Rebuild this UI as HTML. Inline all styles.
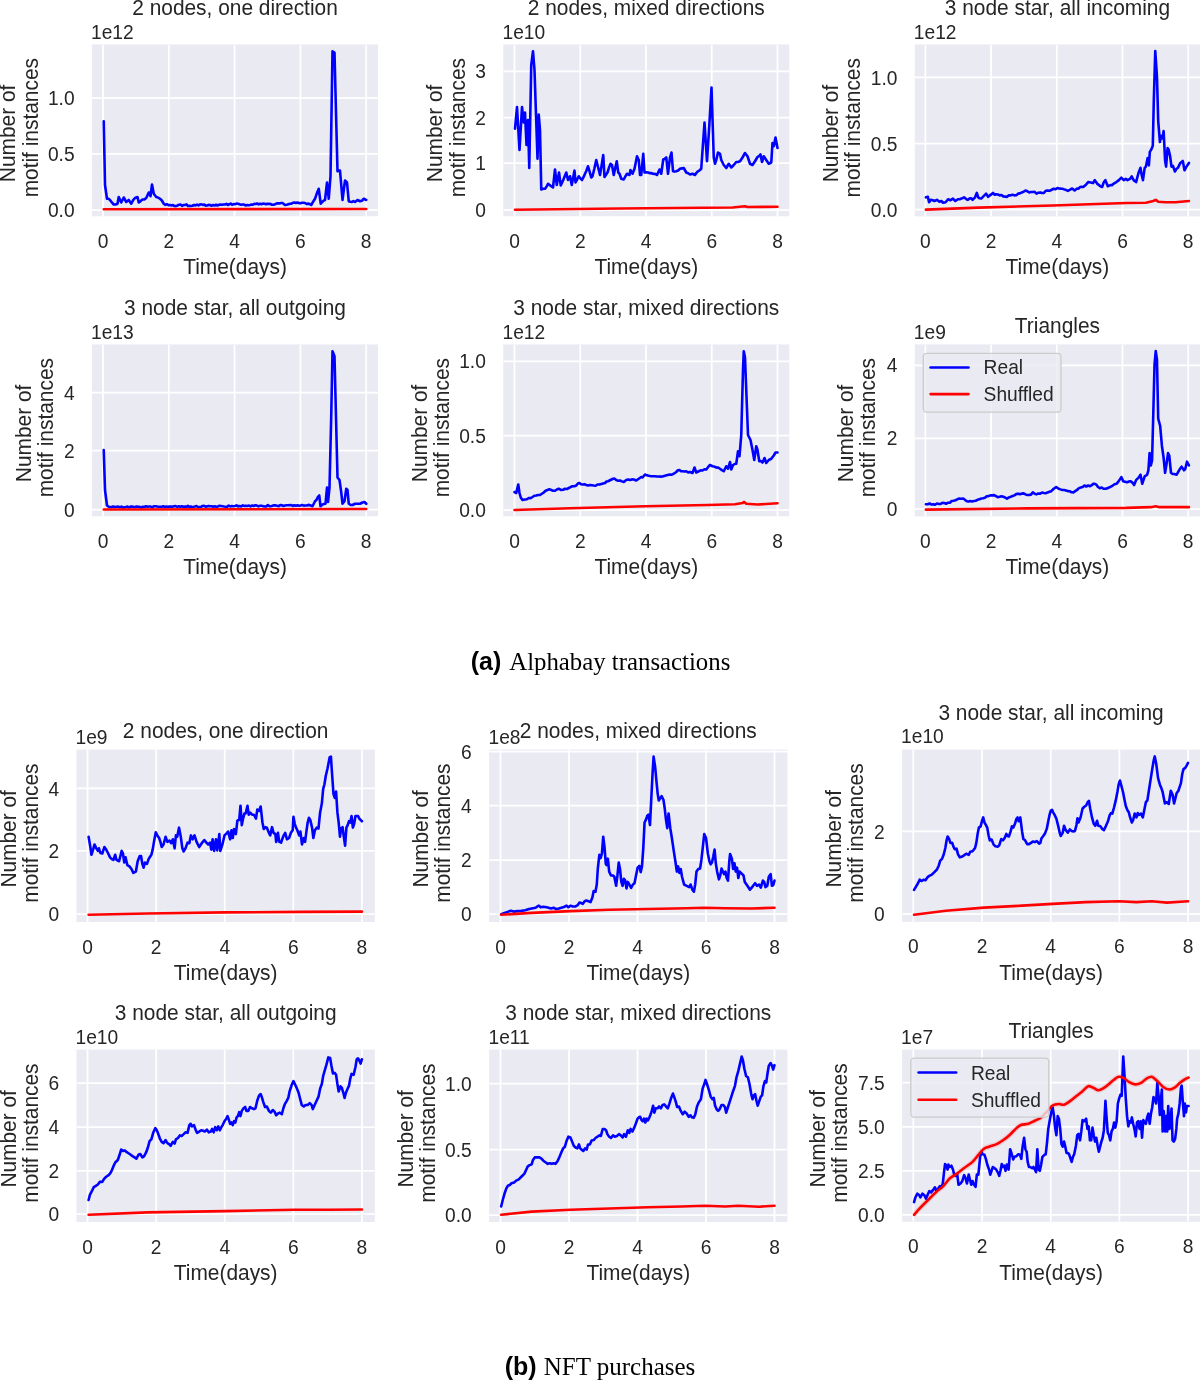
<!DOCTYPE html>
<html><head><meta charset="utf-8"><title>Motif counts</title>
<style>
html,body{margin:0;padding:0;background:#fff;}
body{width:1200px;height:1381px;overflow:hidden;}
svg{display:block;will-change:transform;}
text{font-family:"Liberation Sans",sans-serif;fill:#262626;}
.tk{font-size:19.2px;}
.lb{font-size:20.9px;}
.serif{font-family:"Liberation Serif",serif;}
</style></head><body>
<svg width="1200" height="1381" viewBox="0 0 1200 1381">
<g><rect x="92" y="44.5" width="286.00" height="171.75" fill="#EAEAF2"/>
<clipPath id="ca1"><rect x="92" y="44.5" width="286.00" height="171.75"/></clipPath>
<path d="M103.00 44.5V216.25M168.80 44.5V216.25M234.60 44.5V216.25M300.40 44.5V216.25M366.20 44.5V216.25M92 98H378M92 153.75H378M92 210H378" stroke="#fff" stroke-width="1.75" fill="none" clip-path="url(#ca1)"/>
<polyline points="103.75,121.25 105.00,185.00 107.00,198.75 108.50,198.79 110.00,200.00 111.88,202.45 113.75,204.50 115.62,204.56 117.50,203.75 118.75,197.00 121.25,202.50 123.75,197.50 126.25,202.00 128.75,200.00 131.25,203.75 133.12,200.18 135.00,198.00 137.50,197.00 138.75,202.50 140.62,201.10 142.50,199.50 144.38,199.39 146.25,198.00 148.75,192.50 150.50,196.25 152.00,184.50 153.75,193.75 156.25,197.00 158.12,197.63 160.00,198.75 161.88,200.51 163.75,203.75 165.31,204.82 166.88,204.24 168.44,205.16 170.00,205.00 171.50,205.43 173.00,205.08 174.50,206.07 176.00,206.10 177.50,205.50 179.00,204.72 180.50,204.56 182.00,205.86 183.50,205.01 185.00,205.00 186.50,204.40 188.00,206.02 189.50,205.81 191.00,206.04 192.50,205.75 194.00,205.01 195.50,205.38 197.00,204.55 198.50,205.36 200.00,204.50 201.43,204.39 202.86,204.88 204.29,204.64 205.71,205.58 207.14,205.47 208.57,204.92 210.00,205.00 211.50,205.78 213.00,204.95 214.50,205.56 216.00,204.77 217.50,205.50 219.00,204.77 220.50,204.58 222.00,204.82 223.50,204.48 225.00,204.50 226.43,203.88 227.86,205.02 229.29,204.26 230.71,203.60 232.14,204.76 233.57,204.17 235.00,204.25 236.50,203.62 238.00,203.76 239.50,204.30 241.00,204.72 242.50,204.50 244.00,204.54 245.50,205.46 247.00,204.95 248.50,205.31 250.00,205.00 251.43,204.56 252.86,204.69 254.29,203.86 255.71,203.98 257.14,203.45 258.57,204.36 260.00,203.75 261.50,204.24 263.00,203.61 264.50,203.73 266.00,204.32 267.50,203.75 269.00,203.86 270.50,204.00 272.00,204.73 273.50,204.71 275.00,204.25 276.50,203.58 278.00,203.17 279.50,203.39 281.00,203.01 282.50,203.00 285.00,205.00 286.67,204.75 288.33,204.25 290.00,203.75 291.50,203.70 293.00,202.77 294.50,202.54 296.00,203.03 297.50,202.50 299.00,203.16 300.50,203.32 302.00,202.82 303.50,202.76 305.00,203.00 306.56,204.02 308.12,203.62 309.69,204.03 311.25,205.00 313.12,201.71 315.00,198.75 316.88,193.34 318.75,188.75 320.75,203.75 322.17,201.94 323.58,200.67 325.00,200.00 327.00,182.50 328.75,198.75 330.50,176.25 332.50,51.25 334.50,52.50 336.00,112.43 337.50,171.25 340.00,170.50 342.50,200.00 345.00,180.50 347.00,182.50 348.75,201.25 350.31,201.80 351.88,201.93 353.44,201.03 355.00,202.00 357.50,200.00 360.00,201.25 361.88,200.77 363.75,198.75 366.25,200.00" fill="none" stroke="#0000ff" stroke-width="2.6" stroke-linejoin="round" stroke-linecap="round" clip-path="url(#ca1)"/>
<polyline points="103.75,209.25 366.25,209.00" fill="none" stroke="#ff0000" stroke-width="2.6" stroke-linejoin="round" stroke-linecap="round" clip-path="url(#ca1)"/>
<text class="tk" transform="translate(103.00,247.75) scale(1,1.04)" text-anchor="middle">0</text>
<text class="tk" transform="translate(168.80,247.75) scale(1,1.04)" text-anchor="middle">2</text>
<text class="tk" transform="translate(234.60,247.75) scale(1,1.04)" text-anchor="middle">4</text>
<text class="tk" transform="translate(300.40,247.75) scale(1,1.04)" text-anchor="middle">6</text>
<text class="tk" transform="translate(366.20,247.75) scale(1,1.04)" text-anchor="middle">8</text>
<text class="tk" transform="translate(74.60,105.15) scale(1,1.04)" text-anchor="end">1.0</text>
<text class="tk" transform="translate(74.60,160.90) scale(1,1.04)" text-anchor="end">0.5</text>
<text class="tk" transform="translate(74.60,217.15) scale(1,1.04)" text-anchor="end">0.0</text>
<text class="tk" transform="translate(91.00,38.75) scale(1,1.04)">1e12</text>
<text class="lb" transform="translate(235.00,15.30) scale(1,1.04)" text-anchor="middle">2 nodes, one direction</text>
<text class="lb" transform="translate(235.00,274.00) scale(1,1.04)" text-anchor="middle">Time(days)</text>
<text class="lb" transform="translate(15.35,133.43) rotate(-90) scale(1,1.04)" text-anchor="middle">Number of</text>
<text class="lb" transform="translate(37.65,127.67) rotate(-90) scale(1,1.04)" text-anchor="middle">motif instances</text></g>
<g><rect x="503.25" y="44.5" width="286.00" height="171.75" fill="#EAEAF2"/>
<clipPath id="ca2"><rect x="503.25" y="44.5" width="286.00" height="171.75"/></clipPath>
<path d="M514.50 44.5V216.25M580.25 44.5V216.25M646.00 44.5V216.25M711.75 44.5V216.25M777.50 44.5V216.25M503.25 71.25H789.25M503.25 117.5H789.25M503.25 163H789.25M503.25 210H789.25" stroke="#fff" stroke-width="1.75" fill="none" clip-path="url(#ca2)"/>
<polyline points="515.00,128.75 517.00,107.00 519.50,150.00 522.00,107.00 523.75,122.50 525.00,112.50 526.50,145.00 528.00,120.00 529.25,168.00 531.25,65.00 533.00,51.25 534.50,70.00 536.00,114.50 537.50,158.75 538.75,114.50 540.00,130.00 541.25,189.50 543.12,188.70 545.00,188.75 546.50,186.78 548.00,183.75 549.62,184.93 551.25,186.25 553.00,187.50 555.00,169.50 556.75,185.00 559.00,172.50 560.75,185.50 563.25,180.00 564.75,176.19 566.25,172.50 568.00,180.00 570.00,176.25 571.75,185.00 574.50,170.50 575.50,182.50 577.12,179.53 578.75,176.25 580.38,178.41 582.00,180.00 583.50,177.24 585.00,173.75 586.50,170.42 588.00,166.25 589.62,171.65 591.25,177.50 592.50,176.25 594.38,168.54 596.25,160.00 598.75,170.00 600.00,175.00 601.62,165.26 603.25,155.00 604.50,177.00 606.00,174.71 607.50,172.50 609.00,167.61 610.50,163.75 612.00,165.00 613.75,175.00 615.25,168.03 616.75,161.25 618.25,172.50 619.50,173.75 621.25,178.75 623.75,179.50 625.38,176.44 627.00,173.75 629.50,175.00 630.50,170.00 632.50,173.75 634.50,168.75 637.00,156.25 638.75,160.00 640.00,175.00 641.25,175.00 643.25,153.75 644.50,172.50 646.25,172.31 648.00,172.50 649.50,173.08 651.00,172.97 652.50,173.75 654.00,173.85 655.50,174.06 657.00,175.00 659.50,169.50 661.25,173.75 663.25,159.50 664.75,158.82 666.25,157.50 668.00,173.75 670.00,157.50 671.50,152.50 673.00,171.25 674.62,171.59 676.25,171.25 678.12,170.50 680.00,168.75 681.88,168.38 683.75,168.00 686.25,172.50 688.12,173.26 690.00,174.50 692.50,173.75 695.00,175.00 696.50,172.81 698.00,171.25 699.62,170.30 701.25,168.75 702.88,145.25 704.50,122.50 707.00,161.25 709.25,126.25 711.50,87.50 713.75,157.50 715.00,163.75 716.25,160.00 718.00,152.50 720.00,153.75 721.25,160.00 723.75,165.00 726.25,168.00 728.75,163.75 731.25,167.50 733.75,165.00 736.25,162.00 738.12,162.02 740.00,161.25 742.50,157.50 745.00,153.00 747.50,156.25 750.00,163.75 752.50,165.00 755.00,161.25 757.50,157.00 759.00,156.06 760.50,154.50 762.00,162.00 763.75,156.25 766.25,160.00 768.75,163.75 771.25,162.50 772.50,143.00 773.75,146.25 775.50,137.50 777.50,148.00" fill="none" stroke="#0000ff" stroke-width="2.6" stroke-linejoin="round" stroke-linecap="round" clip-path="url(#ca2)"/>
<polyline points="515.00,209.75 620.00,208.50 732.50,207.50 745.00,206.25 747.50,207.00 777.50,206.75" fill="none" stroke="#ff0000" stroke-width="2.6" stroke-linejoin="round" stroke-linecap="round" clip-path="url(#ca2)"/>
<text class="tk" transform="translate(514.50,247.75) scale(1,1.04)" text-anchor="middle">0</text>
<text class="tk" transform="translate(580.25,247.75) scale(1,1.04)" text-anchor="middle">2</text>
<text class="tk" transform="translate(646.00,247.75) scale(1,1.04)" text-anchor="middle">4</text>
<text class="tk" transform="translate(711.75,247.75) scale(1,1.04)" text-anchor="middle">6</text>
<text class="tk" transform="translate(777.50,247.75) scale(1,1.04)" text-anchor="middle">8</text>
<text class="tk" transform="translate(485.85,78.40) scale(1,1.04)" text-anchor="end">3</text>
<text class="tk" transform="translate(485.85,124.65) scale(1,1.04)" text-anchor="end">2</text>
<text class="tk" transform="translate(485.85,170.15) scale(1,1.04)" text-anchor="end">1</text>
<text class="tk" transform="translate(485.85,217.15) scale(1,1.04)" text-anchor="end">0</text>
<text class="tk" transform="translate(502.50,38.75) scale(1,1.04)">1e10</text>
<text class="lb" transform="translate(646.25,15.30) scale(1,1.04)" text-anchor="middle">2 nodes, mixed directions</text>
<text class="lb" transform="translate(646.25,274.00) scale(1,1.04)" text-anchor="middle">Time(days)</text>
<text class="lb" transform="translate(442.45,133.43) rotate(-90) scale(1,1.04)" text-anchor="middle">Number of</text>
<text class="lb" transform="translate(464.55,127.67) rotate(-90) scale(1,1.04)" text-anchor="middle">motif instances</text></g>
<g><rect x="914.8" y="44.5" width="285.20" height="171.90" fill="#EAEAF2"/>
<clipPath id="ca3"><rect x="914.8" y="44.5" width="285.20" height="171.90"/></clipPath>
<path d="M925.40 44.5V216.4M991.10 44.5V216.4M1056.80 44.5V216.4M1122.50 44.5V216.4M1188.20 44.5V216.4M914.8 77.4H1200M914.8 143.7H1200M914.8 209.6H1200" stroke="#fff" stroke-width="1.75" fill="none" clip-path="url(#ca3)"/>
<polyline points="925.90,197.33 927.86,196.84 929.09,202.25 930.81,199.79 932.66,200.21 934.50,201.02 936.96,199.79 939.42,201.76 941.38,201.02 943.10,202.74 945.56,202.25 948.02,199.30 950.48,200.28 952.94,198.56 955.40,201.02 957.85,199.30 959.70,199.20 961.54,198.56 964.00,197.33 966.46,199.30 967.93,199.87 969.41,198.56 971.01,198.25 972.60,199.79 975.06,197.33 976.78,192.91 978.26,197.33 979.73,198.31 981.21,198.56 983.67,196.10 986.12,193.65 988.09,196.84 990.55,194.88 993.01,192.91 994.48,194.60 995.96,194.38 997.80,194.44 999.65,195.37 1001.49,195.07 1003.33,196.35 1005.18,196.59 1007.02,196.84 1008.86,195.26 1010.71,195.37 1012.55,194.87 1014.40,195.37 1016.24,195.15 1018.08,193.65 1019.93,193.35 1021.77,192.42 1023.61,191.83 1025.46,190.45 1027.30,191.26 1029.15,192.42 1030.99,191.99 1032.83,191.93 1034.68,191.81 1036.52,193.65 1038.36,192.71 1040.21,192.42 1042.05,193.04 1043.90,192.91 1045.74,190.74 1047.58,190.45 1049.43,190.84 1051.27,189.96 1053.73,188.73 1055.57,189.26 1057.42,187.99 1059.06,188.42 1060.69,188.61 1062.33,188.73 1064.18,189.36 1066.02,189.96 1067.86,190.94 1069.71,189.96 1072.17,188.48 1074.62,190.45 1077.08,188.48 1078.56,188.72 1080.03,187.01 1081.63,186.88 1083.23,187.01 1085.69,185.04 1088.15,182.09 1090.60,182.58 1093.06,183.08 1094.78,180.12 1097.24,183.81 1098.84,184.90 1100.44,186.27 1102.16,187.01 1103.63,182.58 1105.35,180.12 1107.81,186.27 1110.27,185.04 1111.87,185.28 1113.47,183.81 1114.94,182.88 1116.42,182.09 1118.88,180.12 1121.33,177.67 1123.79,180.12 1125.76,178.90 1127.48,180.12 1129.94,178.90 1131.66,176.44 1133.62,180.12 1136.08,182.09 1138.54,172.75 1140.51,167.83 1141.49,173.98 1142.97,180.12 1144.69,167.83 1145.92,166.60 1147.64,158.00 1148.87,165.38 1149.85,151.85 1151.33,149.40 1152.80,145.71 1153.78,101.46 1155.26,51.06 1156.98,76.88 1158.21,121.12 1159.93,142.02 1161.16,135.88 1162.63,138.33 1163.62,130.96 1165.09,160.46 1166.08,166.60 1167.55,148.17 1168.53,149.40 1170.01,155.54 1171.48,166.60 1172.96,165.87 1174.92,171.52 1176.40,168.93 1177.88,167.83 1180.33,162.92 1182.79,160.95 1184.51,170.29 1186.48,166.60 1188.94,162.92" fill="none" stroke="#0000ff" stroke-width="2.6" stroke-linejoin="round" stroke-linecap="round" clip-path="url(#ca3)"/>
<polyline points="925.90,209.62 978.75,207.66 1052.50,205.45 1089.38,204.22 1126.25,202.99 1145.92,202.74 1153.29,201.02 1155.75,199.79 1158.21,201.76 1165.58,202.25 1175.42,202.25 1188.94,201.02" fill="none" stroke="#ff0000" stroke-width="2.6" stroke-linejoin="round" stroke-linecap="round" clip-path="url(#ca3)"/>
<text class="tk" transform="translate(925.40,247.90) scale(1,1.04)" text-anchor="middle">0</text>
<text class="tk" transform="translate(991.10,247.90) scale(1,1.04)" text-anchor="middle">2</text>
<text class="tk" transform="translate(1056.80,247.90) scale(1,1.04)" text-anchor="middle">4</text>
<text class="tk" transform="translate(1122.50,247.90) scale(1,1.04)" text-anchor="middle">6</text>
<text class="tk" transform="translate(1188.20,247.90) scale(1,1.04)" text-anchor="middle">8</text>
<text class="tk" transform="translate(897.40,84.55) scale(1,1.04)" text-anchor="end">1.0</text>
<text class="tk" transform="translate(897.40,150.85) scale(1,1.04)" text-anchor="end">0.5</text>
<text class="tk" transform="translate(897.40,216.75) scale(1,1.04)" text-anchor="end">0.0</text>
<text class="tk" transform="translate(913.80,38.75) scale(1,1.04)">1e12</text>
<text class="lb" transform="translate(1057.40,15.30) scale(1,1.04)" text-anchor="middle">3 node star, all incoming</text>
<text class="lb" transform="translate(1057.40,274.15) scale(1,1.04)" text-anchor="middle">Time(days)</text>
<text class="lb" transform="translate(837.65,133.50) rotate(-90) scale(1,1.04)" text-anchor="middle">Number of</text>
<text class="lb" transform="translate(859.75,127.75) rotate(-90) scale(1,1.04)" text-anchor="middle">motif instances</text></g>
<g><rect x="92" y="344.5" width="286.00" height="171.75" fill="#EAEAF2"/>
<clipPath id="ca4"><rect x="92" y="344.5" width="286.00" height="171.75"/></clipPath>
<path d="M103.00 344.5V516.25M168.80 344.5V516.25M234.60 344.5V516.25M300.40 344.5V516.25M366.20 344.5V516.25M92 392.5H378M92 450.5H378M92 509.5H378" stroke="#fff" stroke-width="1.75" fill="none" clip-path="url(#ca4)"/>
<polyline points="103.75,450.00 105.00,490.00 107.00,505.50 108.75,506.75 111.25,507.25 113.12,506.52 115.00,507.00 116.67,506.74 118.33,506.66 120.00,507.25 121.50,506.60 123.00,507.62 124.50,507.28 126.00,507.01 127.50,506.51 129.00,507.53 130.50,506.64 132.00,506.54 133.50,506.86 135.00,507.00 136.56,506.49 138.12,506.80 139.69,506.87 141.25,507.54 142.81,506.72 144.38,507.01 145.94,506.29 147.50,506.75 149.06,506.45 150.62,506.55 152.19,507.41 153.75,506.32 155.31,506.32 156.88,506.56 158.44,506.78 160.00,506.75 161.56,506.85 163.12,506.28 164.69,506.99 166.25,506.54 167.81,506.89 169.38,506.64 170.94,506.45 172.50,506.75 174.06,506.25 175.62,506.14 177.19,506.96 178.75,506.32 180.31,506.78 181.88,506.20 183.44,507.01 185.00,506.50 186.43,506.86 187.86,505.86 189.29,506.91 190.71,506.44 192.14,507.12 193.57,506.84 195.00,506.50 196.50,506.06 198.00,507.00 199.50,506.95 201.00,506.81 202.50,506.00 204.00,505.77 205.50,506.59 207.00,506.40 208.50,505.92 210.00,506.25 211.56,506.24 213.12,506.80 214.69,506.31 216.25,506.76 217.81,506.41 219.38,505.82 220.94,506.04 222.50,506.25 224.06,506.52 225.62,506.71 227.19,506.81 228.75,505.47 230.31,506.47 231.88,505.96 233.44,506.20 235.00,506.00 236.56,505.33 238.12,506.38 239.69,506.00 241.25,506.48 242.81,505.39 244.38,506.06 245.94,505.72 247.50,506.00 249.06,505.58 250.62,506.34 252.19,505.47 253.75,506.04 255.31,505.19 256.88,505.61 258.44,506.35 260.00,505.75 261.56,505.68 263.12,506.22 264.69,506.35 266.25,506.43 267.81,505.08 269.38,506.10 270.94,506.20 272.50,505.75 274.06,505.19 275.62,505.40 277.19,505.80 278.75,506.15 280.31,505.08 281.88,505.28 283.44,505.96 285.00,505.50 286.56,505.30 288.12,505.21 289.69,505.17 291.25,504.96 292.81,506.00 294.38,505.26 295.94,505.71 297.50,505.25 299.06,505.74 300.62,505.46 302.19,505.00 303.75,505.63 305.31,505.47 306.88,505.50 308.44,504.89 310.00,505.25 312.50,506.25 315.00,501.25 316.42,500.00 317.83,497.13 319.25,495.50 320.50,506.25 322.50,504.50 324.00,504.06 325.50,503.75 327.00,487.50 328.00,502.00 329.50,487.50 331.25,415.00 332.50,351.25 334.50,356.25 336.25,427.50 337.50,477.50 339.50,480.00 341.25,492.50 342.50,503.75 344.50,501.25 346.25,488.75 347.50,490.00 348.75,503.75 350.62,504.84 352.50,505.00 355.00,503.75 357.50,503.75 360.00,503.75 362.50,502.50 364.50,502.00 366.25,503.75" fill="none" stroke="#0000ff" stroke-width="2.6" stroke-linejoin="round" stroke-linecap="round" clip-path="url(#ca4)"/>
<polyline points="103.75,509.50 366.25,509.00" fill="none" stroke="#ff0000" stroke-width="2.6" stroke-linejoin="round" stroke-linecap="round" clip-path="url(#ca4)"/>
<text class="tk" transform="translate(103.00,547.75) scale(1,1.04)" text-anchor="middle">0</text>
<text class="tk" transform="translate(168.80,547.75) scale(1,1.04)" text-anchor="middle">2</text>
<text class="tk" transform="translate(234.60,547.75) scale(1,1.04)" text-anchor="middle">4</text>
<text class="tk" transform="translate(300.40,547.75) scale(1,1.04)" text-anchor="middle">6</text>
<text class="tk" transform="translate(366.20,547.75) scale(1,1.04)" text-anchor="middle">8</text>
<text class="tk" transform="translate(74.60,399.65) scale(1,1.04)" text-anchor="end">4</text>
<text class="tk" transform="translate(74.60,457.65) scale(1,1.04)" text-anchor="end">2</text>
<text class="tk" transform="translate(74.60,516.65) scale(1,1.04)" text-anchor="end">0</text>
<text class="tk" transform="translate(91.00,338.50) scale(1,1.04)">1e13</text>
<text class="lb" transform="translate(235.00,315.20) scale(1,1.04)" text-anchor="middle">3 node star, all outgoing</text>
<text class="lb" transform="translate(235.00,574.00) scale(1,1.04)" text-anchor="middle">Time(days)</text>
<text class="lb" transform="translate(31.15,433.43) rotate(-90) scale(1,1.04)" text-anchor="middle">Number of</text>
<text class="lb" transform="translate(53.45,427.68) rotate(-90) scale(1,1.04)" text-anchor="middle">motif instances</text></g>
<g><rect x="503.25" y="344.5" width="286.00" height="171.75" fill="#EAEAF2"/>
<clipPath id="ca5"><rect x="503.25" y="344.5" width="286.00" height="171.75"/></clipPath>
<path d="M514.50 344.5V516.25M580.25 344.5V516.25M646.00 344.5V516.25M711.75 344.5V516.25M777.50 344.5V516.25M503.25 361.25H789.25M503.25 435.5H789.25M503.25 510H789.25" stroke="#fff" stroke-width="1.75" fill="none" clip-path="url(#ca5)"/>
<polyline points="514.50,492.00 516.25,493.00 517.50,487.50 518.25,484.50 519.50,493.00 520.75,497.50 522.50,500.00 525.00,499.50 526.88,499.27 528.75,498.00 530.62,498.13 532.50,497.00 534.38,495.75 536.25,495.50 538.12,494.94 540.00,495.00 541.88,493.72 543.75,492.50 545.62,490.71 547.50,490.00 549.38,489.35 551.25,490.00 553.12,490.77 555.00,490.75 556.88,489.48 558.75,488.75 561.25,490.00 563.12,489.76 565.00,488.75 566.88,489.06 568.75,488.00 570.62,487.03 572.50,486.25 574.38,486.28 576.25,485.50 577.88,483.53 579.50,483.00 581.00,484.27 582.50,484.50 584.38,484.17 586.25,485.00 588.12,485.53 590.00,485.00 591.88,485.23 593.75,485.50 595.62,485.72 597.50,484.50 599.38,484.54 601.25,484.00 603.12,483.47 605.00,483.00 606.50,481.53 608.00,481.25 610.50,480.00 613.00,478.75 614.62,478.67 616.25,480.00 618.12,480.73 620.00,480.50 621.88,481.36 623.75,482.00 626.25,480.00 628.12,479.53 630.00,480.00 631.88,479.39 633.75,479.50 636.25,480.50 638.75,478.75 641.25,477.00 642.50,477.50 645.00,474.50 646.88,475.32 648.75,475.75 651.25,476.25 653.12,476.24 655.00,476.25 656.88,476.44 658.75,476.50 660.62,476.58 662.50,476.50 665.00,475.75 667.50,475.00 670.00,474.50 671.88,474.69 673.75,473.75 676.25,472.00 677.88,470.25 679.50,470.00 681.00,471.21 682.50,471.25 684.38,471.48 686.25,471.25 688.12,472.37 690.00,472.00 692.50,473.00 694.50,467.50 696.25,472.50 698.75,471.25 700.62,470.35 702.50,470.50 704.38,469.26 706.25,469.50 708.75,466.25 710.00,465.00 712.50,466.25 714.38,466.55 716.25,467.50 718.12,467.64 720.00,468.75 721.88,470.09 723.75,471.25 726.25,466.25 728.00,468.75 730.00,462.00 731.25,469.50 733.00,465.00 734.62,464.04 736.25,463.75 738.00,451.25 739.50,456.25 741.25,435.00 743.00,370.00 743.75,351.25 745.00,357.50 746.25,390.00 748.00,435.00 750.50,440.00 752.50,450.00 754.25,460.00 756.25,446.25 757.50,450.00 759.25,461.25 760.88,461.10 762.50,462.50 764.50,458.00 766.25,463.00 768.75,460.00 771.25,458.75 773.75,455.50 775.50,452.50 777.50,452.50" fill="none" stroke="#0000ff" stroke-width="2.6" stroke-linejoin="round" stroke-linecap="round" clip-path="url(#ca5)"/>
<polyline points="514.50,510.00 570.00,508.25 645.00,506.25 707.50,505.00 735.00,504.25 742.50,503.00 744.25,502.00 746.25,503.75 757.50,504.50 777.50,503.25" fill="none" stroke="#ff0000" stroke-width="2.6" stroke-linejoin="round" stroke-linecap="round" clip-path="url(#ca5)"/>
<text class="tk" transform="translate(514.50,547.75) scale(1,1.04)" text-anchor="middle">0</text>
<text class="tk" transform="translate(580.25,547.75) scale(1,1.04)" text-anchor="middle">2</text>
<text class="tk" transform="translate(646.00,547.75) scale(1,1.04)" text-anchor="middle">4</text>
<text class="tk" transform="translate(711.75,547.75) scale(1,1.04)" text-anchor="middle">6</text>
<text class="tk" transform="translate(777.50,547.75) scale(1,1.04)" text-anchor="middle">8</text>
<text class="tk" transform="translate(485.85,368.40) scale(1,1.04)" text-anchor="end">1.0</text>
<text class="tk" transform="translate(485.85,442.65) scale(1,1.04)" text-anchor="end">0.5</text>
<text class="tk" transform="translate(485.85,517.15) scale(1,1.04)" text-anchor="end">0.0</text>
<text class="tk" transform="translate(502.50,338.75) scale(1,1.04)">1e12</text>
<text class="lb" transform="translate(646.25,315.20) scale(1,1.04)" text-anchor="middle">3 node star, mixed directions</text>
<text class="lb" transform="translate(646.25,574.00) scale(1,1.04)" text-anchor="middle">Time(days)</text>
<text class="lb" transform="translate(426.85,433.43) rotate(-90) scale(1,1.04)" text-anchor="middle">Number of</text>
<text class="lb" transform="translate(448.65,427.68) rotate(-90) scale(1,1.04)" text-anchor="middle">motif instances</text></g>
<g><rect x="914.8" y="344.4" width="285.20" height="172.00" fill="#EAEAF2"/>
<clipPath id="ca6"><rect x="914.8" y="344.4" width="285.20" height="172.00"/></clipPath>
<path d="M925.40 344.4V516.4M991.10 344.4V516.4M1056.80 344.4V516.4M1122.50 344.4V516.4M1188.20 344.4V516.4M914.8 365.3H1200M914.8 438.3H1200M914.8 509.1H1200" stroke="#fff" stroke-width="1.75" fill="none" clip-path="url(#ca6)"/>
<polyline points="925.90,504.22 927.74,504.26 929.58,503.48 931.43,504.54 933.27,504.22 935.11,504.75 936.96,503.48 938.80,503.99 940.65,503.97 942.49,502.89 944.33,502.99 946.18,503.81 948.02,502.74 949.86,502.72 951.71,501.02 953.55,500.80 955.40,500.28 957.24,499.35 959.08,498.56 961.17,498.71 963.26,498.56 964.86,499.71 966.46,501.02 968.30,501.63 970.15,501.02 971.99,501.47 973.83,501.02 975.68,500.74 977.52,499.79 979.36,499.34 981.21,498.56 983.05,498.31 984.90,497.83 986.74,496.23 988.58,496.10 990.43,495.34 992.27,495.37 994.11,495.09 995.96,496.10 997.80,497.21 999.65,496.84 1001.49,496.20 1003.33,496.84 1005.18,497.54 1007.02,498.56 1008.86,497.38 1010.71,496.84 1012.55,495.99 1014.40,495.37 1016.24,494.08 1018.08,493.65 1019.93,494.12 1021.77,493.65 1023.61,493.36 1025.46,494.38 1027.30,495.06 1029.15,494.88 1030.99,494.63 1032.83,492.42 1034.68,493.74 1036.52,494.38 1038.36,493.45 1040.21,493.65 1042.05,492.48 1043.90,492.91 1045.74,493.21 1047.58,492.42 1049.43,491.81 1051.27,491.19 1053.73,488.73 1056.19,487.01 1058.65,488.73 1060.49,489.37 1062.33,489.96 1064.18,490.00 1066.02,490.45 1067.86,491.16 1069.71,491.19 1071.55,492.31 1073.40,492.42 1075.24,491.17 1077.08,489.96 1078.93,488.11 1080.77,487.50 1082.61,487.03 1084.46,485.53 1086.30,486.47 1088.15,485.53 1089.99,486.24 1091.83,485.04 1093.31,483.88 1094.78,483.81 1096.38,484.63 1097.98,487.01 1099.82,488.20 1101.67,487.50 1103.51,488.79 1105.35,488.73 1107.20,488.36 1109.04,487.50 1110.89,486.63 1112.73,485.53 1114.57,484.28 1116.42,483.81 1117.89,482.26 1119.37,480.12 1121.33,477.18 1123.30,481.35 1124.78,481.67 1126.25,482.09 1127.72,482.14 1129.20,481.35 1130.80,481.40 1132.40,482.58 1134.12,485.04 1136.08,480.12 1138.54,477.67 1140.51,474.72 1142.23,483.81 1144.69,476.44 1147.15,474.72 1148.38,470.29 1149.60,453.08 1150.83,465.38 1152.06,460.46 1153.29,413.75 1154.52,364.58 1155.75,351.06 1156.98,359.67 1158.21,418.67 1160.17,426.04 1161.90,445.71 1163.62,458.00 1165.09,472.75 1166.32,465.38 1168.04,453.08 1169.27,455.54 1170.99,472.75 1172.59,473.97 1174.19,473.98 1176.65,474.72 1179.10,470.29 1181.56,466.60 1184.02,470.29 1185.25,469.06 1186.97,461.69 1188.94,465.38" fill="none" stroke="#0000ff" stroke-width="2.6" stroke-linejoin="round" stroke-linecap="round" clip-path="url(#ca6)"/>
<polyline points="925.90,509.62 1027.92,508.40 1126.25,507.90 1150.83,507.17 1155.75,506.18 1159.44,507.17 1188.94,507.17" fill="none" stroke="#ff0000" stroke-width="2.6" stroke-linejoin="round" stroke-linecap="round" clip-path="url(#ca6)"/>
<text class="tk" transform="translate(925.40,547.90) scale(1,1.04)" text-anchor="middle">0</text>
<text class="tk" transform="translate(991.10,547.90) scale(1,1.04)" text-anchor="middle">2</text>
<text class="tk" transform="translate(1056.80,547.90) scale(1,1.04)" text-anchor="middle">4</text>
<text class="tk" transform="translate(1122.50,547.90) scale(1,1.04)" text-anchor="middle">6</text>
<text class="tk" transform="translate(1188.20,547.90) scale(1,1.04)" text-anchor="middle">8</text>
<text class="tk" transform="translate(897.40,372.45) scale(1,1.04)" text-anchor="end">4</text>
<text class="tk" transform="translate(897.40,445.45) scale(1,1.04)" text-anchor="end">2</text>
<text class="tk" transform="translate(897.40,516.25) scale(1,1.04)" text-anchor="end">0</text>
<text class="tk" transform="translate(913.80,338.75) scale(1,1.04)">1e9</text>
<text class="lb" transform="translate(1057.40,333.25) scale(1,1.04)" text-anchor="middle">Triangles</text>
<text class="lb" transform="translate(1057.40,574.15) scale(1,1.04)" text-anchor="middle">Time(days)</text>
<text class="lb" transform="translate(853.45,433.45) rotate(-90) scale(1,1.04)" text-anchor="middle">Number of</text>
<text class="lb" transform="translate(875.15,427.70) rotate(-90) scale(1,1.04)" text-anchor="middle">motif instances</text>
<rect x="923.3" y="353.3" width="137.70" height="58.90" rx="3.5" fill="#EAEAF2" fill-opacity="0.8" stroke="#cccccc" stroke-width="1.3"/>
<path d="M930.6 367.5H968.5" stroke="#0000ff" stroke-width="2.6" stroke-linecap="round"/>
<path d="M930.6 394.1H968.5" stroke="#ff0000" stroke-width="2.6" stroke-linecap="round"/>
<text class="tk" transform="translate(983.6,374.4) scale(1,1.04)">Real</text>
<text class="tk" transform="translate(983.6,400.7) scale(1,1.04)">Shuffled</text></g>
<g><rect x="76.5" y="749.6" width="298.30" height="172.40" fill="#EAEAF2"/>
<clipPath id="cb1"><rect x="76.5" y="749.6" width="298.30" height="172.40"/></clipPath>
<path d="M87.60 749.6V922.0M156.18 749.6V922.0M224.76 749.6V922.0M293.34 749.6V922.0M361.92 749.6V922.0M76.5 788.4H374.8M76.5 850.9H374.8M76.5 914.2H374.8" stroke="#fff" stroke-width="1.75" fill="none" clip-path="url(#cb1)"/>
<polyline points="88.60,836.71 90.15,845.75 91.44,854.79 92.73,850.92 94.54,844.46 96.35,848.33 97.90,850.92 98.93,848.33 100.48,852.98 102.29,853.50 104.36,847.04 106.17,849.62 108.23,853.50 110.04,857.38 111.85,859.18 113.40,859.96 115.21,854.79 116.50,859.96 119.08,861.25 121.67,850.92 122.96,853.50 124.25,862.54 125.54,857.38 127.35,865.12 129.42,866.42 131.48,869.00 133.29,872.88 135.88,871.58 137.68,861.25 139.75,856.08 141.04,856.08 142.33,863.83 143.62,867.71 144.92,862.54 146.98,863.83 148.79,858.67 151.38,854.79 152.67,849.62 153.96,841.88 155.77,832.32 157.32,835.42 159.12,838.00 160.42,841.88 161.71,847.04 163.52,844.46 165.58,836.71 167.39,841.88 169.46,840.58 171.27,843.17 172.82,839.29 174.62,848.33 175.92,835.42 177.21,836.71 179.02,827.67 180.57,835.42 182.38,848.33 183.67,851.43 185.47,848.33 187.54,842.65 189.35,843.17 190.90,835.42 192.71,839.29 194.52,835.42 196.58,841.88 199.17,847.04 201.75,843.17 204.33,840.07 206.40,842.65 208.21,844.46 210.02,842.65 211.31,849.62 212.60,839.29 214.15,850.92 215.96,839.29 217.25,850.40 219.32,834.12 220.35,850.92 222.42,844.46 224.48,835.42 227.07,832.83 228.10,831.54 230.17,839.29 231.46,830.25 232.75,838.00 234.04,828.96 235.85,834.12 237.40,820.43 239.21,819.92 240.50,805.71 241.79,825.08 243.08,818.62 244.38,813.46 245.67,813.46 247.47,805.71 248.77,814.75 250.32,812.68 252.12,814.75 253.93,814.75 256.00,818.62 257.29,809.58 259.10,810.88 260.65,806.48 262.46,822.50 263.75,828.96 265.56,827.15 266.85,827.67 268.92,832.83 270.21,835.42 272.02,827.15 273.57,832.83 275.38,834.12 276.15,841.88 277.96,832.83 279.25,841.88 281.06,842.65 283.12,836.71 285.19,832.83 287.00,839.29 289.07,838.00 290.88,832.83 292.68,830.25 293.46,816.82 294.75,823.79 296.04,827.67 297.33,830.25 299.14,835.42 300.43,831.54 301.98,844.46 303.79,838.00 305.08,841.88 306.38,831.54 307.67,822.50 308.96,817.85 310.25,819.92 312.06,827.67 313.35,838.00 314.90,830.25 316.71,827.67 318.52,828.44 320.07,812.68 321.88,803.12 323.17,788.92 324.46,784.27 325.75,776.00 327.56,768.25 329.62,757.40 330.92,756.62 332.21,776.00 333.50,794.08 334.79,797.96 336.08,791.50 337.38,812.17 338.67,822.50 339.96,836.71 341.25,828.18 342.54,827.15 343.83,836.71 345.12,845.75 346.42,827.67 347.71,825.08 349.00,821.21 350.29,822.50 351.58,816.04 352.88,827.67 354.17,823.79 355.46,816.04 358.04,816.04 359.33,818.62 361.92,821.21" fill="none" stroke="#0000ff" stroke-width="2.6" stroke-linejoin="round" stroke-linecap="round" clip-path="url(#cb1)"/>
<polyline points="88.60,914.73 147.50,913.43 225.00,912.40 302.50,911.88 361.92,911.62" fill="none" stroke="#ff0000" stroke-width="2.6" stroke-linejoin="round" stroke-linecap="round" clip-path="url(#cb1)"/>
<text class="tk" transform="translate(87.60,953.50) scale(1,1.04)" text-anchor="middle">0</text>
<text class="tk" transform="translate(156.18,953.50) scale(1,1.04)" text-anchor="middle">2</text>
<text class="tk" transform="translate(224.76,953.50) scale(1,1.04)" text-anchor="middle">4</text>
<text class="tk" transform="translate(293.34,953.50) scale(1,1.04)" text-anchor="middle">6</text>
<text class="tk" transform="translate(361.92,953.50) scale(1,1.04)" text-anchor="middle">8</text>
<text class="tk" transform="translate(59.10,795.55) scale(1,1.04)" text-anchor="end">4</text>
<text class="tk" transform="translate(59.10,858.05) scale(1,1.04)" text-anchor="end">2</text>
<text class="tk" transform="translate(59.10,921.35) scale(1,1.04)" text-anchor="end">0</text>
<text class="tk" transform="translate(75.50,743.75) scale(1,1.04)">1e9</text>
<text class="lb" transform="translate(225.65,738.00) scale(1,1.04)" text-anchor="middle">2 nodes, one direction</text>
<text class="lb" transform="translate(225.65,979.75) scale(1,1.04)" text-anchor="middle">Time(days)</text>
<text class="lb" transform="translate(15.75,838.85) rotate(-90) scale(1,1.04)" text-anchor="middle">Number of</text>
<text class="lb" transform="translate(37.65,833.10) rotate(-90) scale(1,1.04)" text-anchor="middle">motif instances</text></g>
<g><rect x="489.1" y="749.6" width="298.30" height="172.40" fill="#EAEAF2"/>
<clipPath id="cb2"><rect x="489.1" y="749.6" width="298.30" height="172.40"/></clipPath>
<path d="M500.50 749.6V922.0M569.00 749.6V922.0M637.50 749.6V922.0M706.00 749.6V922.0M774.50 749.6V922.0M489.1 751.6H787.4M489.1 805.7H787.4M489.1 860H787.4M489.1 914.2H787.4" stroke="#fff" stroke-width="1.75" fill="none" clip-path="url(#cb2)"/>
<polyline points="501.18,914.21 504.54,912.92 508.42,911.62 511.00,910.85 513.58,911.62 517.46,911.11 521.33,910.85 525.21,910.33 529.08,909.04 532.96,908.27 535.54,907.75 537.35,906.46 538.90,905.68 540.71,907.23 543.29,906.72 546.65,907.23 548.46,907.75 551.04,908.52 553.62,907.75 556.21,909.04 558.79,908.52 561.38,907.75 563.96,906.98 566.54,905.68 568.35,907.23 570.42,905.68 573.00,906.46 575.58,906.46 577.65,905.17 579.46,902.58 581.27,903.10 582.82,903.88 584.62,901.29 586.43,900.52 588.50,901.29 590.57,902.07 592.38,897.42 593.67,890.96 595.48,891.73 596.77,884.50 597.80,869.00 599.35,854.79 600.64,858.15 601.93,853.50 603.23,836.71 604.52,847.04 605.81,863.83 606.58,865.12 607.88,858.67 609.17,871.58 610.98,875.46 613.04,875.46 614.33,876.75 616.14,885.79 617.43,875.46 618.73,862.54 620.02,869.00 621.31,881.92 622.60,885.79 623.89,878.82 625.18,880.62 626.48,888.38 627.77,881.92 629.32,884.50 631.12,887.86 632.93,884.50 634.48,883.21 636.29,874.17 637.58,867.71 639.39,865.90 640.68,872.10 641.98,866.42 643.27,848.33 644.56,822.50 645.85,819.92 647.14,816.04 648.43,814.75 649.98,825.08 651.27,799.25 652.57,773.42 653.60,756.62 655.15,766.96 656.44,781.17 657.73,794.08 658.77,800.54 660.32,797.96 661.61,796.15 663.42,799.77 664.71,808.29 666.00,819.92 667.29,828.18 668.58,813.46 670.39,828.96 671.68,836.71 673.75,850.92 675.56,862.54 676.85,871.58 678.14,866.42 679.43,872.88 680.73,869.00 682.02,876.75 684.08,884.50 686.67,885.79 689.25,887.08 690.54,884.50 692.35,889.67 693.90,891.73 695.19,884.50 696.48,871.58 698.29,869.00 700.10,868.48 701.39,859.96 702.68,848.33 704.23,834.12 706.04,838.00 707.85,853.50 709.40,861.25 710.69,864.35 711.98,862.54 713.27,856.60 714.57,849.62 715.86,863.83 717.15,871.58 718.96,879.33 720.25,875.46 721.54,868.48 722.83,871.58 724.12,874.17 725.42,871.58 726.71,878.04 728.00,880.62 729.29,861.25 730.07,854.02 731.88,858.67 733.17,869.00 734.46,863.32 735.75,871.58 737.04,867.71 738.33,878.04 739.62,871.58 742.21,874.17 743.50,875.46 744.79,881.92 747.38,885.79 749.96,889.67 752.54,886.57 755.12,883.21 756.93,885.79 759.00,884.50 760.81,887.60 762.88,880.62 764.17,881.92 765.46,887.08 767.27,885.79 768.82,876.75 770.62,874.17 771.92,885.79 773.21,885.02 774.50,880.62" fill="none" stroke="#0000ff" stroke-width="2.6" stroke-linejoin="round" stroke-linecap="round" clip-path="url(#cb2)"/>
<polyline points="501.18,914.73 531.67,912.92 570.42,911.11 609.17,909.82 647.92,909.04 686.67,908.27 704.75,907.75 725.42,908.27 751.25,908.52 774.50,907.75" fill="none" stroke="#ff0000" stroke-width="2.6" stroke-linejoin="round" stroke-linecap="round" clip-path="url(#cb2)"/>
<text class="tk" transform="translate(500.50,953.50) scale(1,1.04)" text-anchor="middle">0</text>
<text class="tk" transform="translate(569.00,953.50) scale(1,1.04)" text-anchor="middle">2</text>
<text class="tk" transform="translate(637.50,953.50) scale(1,1.04)" text-anchor="middle">4</text>
<text class="tk" transform="translate(706.00,953.50) scale(1,1.04)" text-anchor="middle">6</text>
<text class="tk" transform="translate(774.50,953.50) scale(1,1.04)" text-anchor="middle">8</text>
<text class="tk" transform="translate(471.70,758.75) scale(1,1.04)" text-anchor="end">6</text>
<text class="tk" transform="translate(471.70,812.85) scale(1,1.04)" text-anchor="end">4</text>
<text class="tk" transform="translate(471.70,867.15) scale(1,1.04)" text-anchor="end">2</text>
<text class="tk" transform="translate(471.70,921.35) scale(1,1.04)" text-anchor="end">0</text>
<text class="tk" transform="translate(488.50,743.75) scale(1,1.04)">1e8</text>
<text class="lb" transform="translate(638.25,738.00) scale(1,1.04)" text-anchor="middle">2 nodes, mixed directions</text>
<text class="lb" transform="translate(638.25,979.75) scale(1,1.04)" text-anchor="middle">Time(days)</text>
<text class="lb" transform="translate(428.25,838.85) rotate(-90) scale(1,1.04)" text-anchor="middle">Number of</text>
<text class="lb" transform="translate(450.35,833.10) rotate(-90) scale(1,1.04)" text-anchor="middle">motif instances</text></g>
<g><rect x="902.1" y="749.6" width="297.90" height="172.20" fill="#EAEAF2"/>
<clipPath id="cb3"><rect x="902.1" y="749.6" width="297.90" height="172.20"/></clipPath>
<path d="M913.30 749.6V921.8M982.00 749.6V921.8M1050.70 749.6V921.8M1119.40 749.6V921.8M1188.10 749.6V921.8M902.1 831.4H1200M902.1 914.0H1200" stroke="#fff" stroke-width="1.75" fill="none" clip-path="url(#cb3)"/>
<polyline points="914.06,889.88 915.84,886.83 917.88,883.52 919.65,879.71 921.69,880.98 923.47,879.71 925.50,880.22 927.53,877.17 929.31,875.90 931.85,874.62 934.40,872.08 936.94,869.54 938.72,865.73 940.24,860.65 942.02,858.87 943.80,854.29 945.33,847.94 946.60,840.31 947.61,836.50 949.14,839.04 950.41,842.85 952.19,842.85 953.46,846.67 954.73,849.21 956.51,848.70 958.03,854.29 959.81,857.34 961.59,856.83 963.62,855.56 966.17,853.78 968.71,854.80 970.23,851.75 972.52,851.24 975.06,847.94 976.33,842.85 977.60,833.96 978.88,827.60 980.65,826.33 981.92,821.25 983.20,817.44 984.47,822.52 985.99,825.06 987.26,827.60 988.53,835.23 989.80,840.31 991.58,839.55 993.62,844.63 995.40,846.16 997.94,846.67 999.21,845.40 1001.24,839.04 1003.02,840.31 1004.80,837.77 1006.33,833.96 1007.60,835.99 1008.87,836.50 1010.65,831.42 1011.92,826.33 1013.19,827.60 1014.97,823.79 1016.49,818.71 1017.51,817.44 1018.78,821.25 1020.30,817.44 1022.08,831.42 1023.35,839.04 1025.13,840.31 1027.17,844.12 1028.95,844.12 1030.98,842.85 1032.76,841.58 1034.79,842.09 1036.83,841.08 1039.11,843.62 1040.38,842.85 1041.40,838.53 1042.92,836.50 1044.96,833.45 1046.74,828.88 1048.26,821.25 1049.53,814.90 1050.80,810.58 1052.08,809.81 1053.09,812.35 1054.62,814.90 1056.40,818.71 1058.17,825.83 1059.70,832.69 1060.72,835.99 1062.75,832.69 1064.02,825.83 1065.80,830.15 1067.83,832.69 1069.87,829.38 1071.65,830.91 1073.42,831.42 1074.95,830.91 1076.47,825.06 1077.49,818.20 1078.51,822.52 1080.54,817.44 1082.58,808.54 1084.35,806.76 1086.13,805.49 1087.66,802.19 1088.93,800.92 1090.20,808.54 1091.98,817.44 1093.76,823.79 1095.28,825.83 1097.06,820.74 1098.33,825.83 1100.37,826.33 1102.15,828.88 1103.92,830.15 1105.96,825.83 1107.99,821.25 1109.77,814.90 1111.04,813.12 1112.31,813.62 1114.09,807.27 1115.62,800.92 1117.40,792.02 1118.67,784.40 1119.94,780.58 1121.21,785.16 1122.99,792.02 1124.51,799.65 1125.78,806.00 1127.56,810.58 1128.83,812.35 1130.10,817.44 1131.88,822.52 1133.15,819.98 1134.68,813.62 1136.46,817.44 1137.73,813.12 1139.00,814.90 1141.03,813.62 1142.81,817.44 1144.59,808.54 1145.86,802.19 1147.39,800.41 1148.66,792.02 1150.44,780.58 1152.22,769.15 1153.74,760.25 1154.76,756.44 1156.28,764.06 1158.06,778.04 1159.84,784.40 1161.37,788.21 1162.64,792.02 1163.91,798.38 1164.92,803.46 1166.96,802.19 1168.74,803.97 1170.77,790.75 1172.55,794.56 1174.08,803.46 1175.35,798.38 1176.62,793.29 1178.40,790.75 1179.67,786.94 1180.94,783.12 1182.21,774.23 1183.48,769.15 1185.26,767.88 1186.78,765.33 1188.05,762.79" fill="none" stroke="#0000ff" stroke-width="2.6" stroke-linejoin="round" stroke-linecap="round" clip-path="url(#cb3)"/>
<polyline points="914.06,914.78 945.83,910.72 983.96,907.67 1022.08,905.63 1052.58,903.85 1085.62,902.08 1118.67,901.31 1136.46,902.08 1151.71,901.31 1166.96,902.58 1188.05,901.31" fill="none" stroke="#ff0000" stroke-width="2.6" stroke-linejoin="round" stroke-linecap="round" clip-path="url(#cb3)"/>
<text class="tk" transform="translate(913.30,953.30) scale(1,1.04)" text-anchor="middle">0</text>
<text class="tk" transform="translate(982.00,953.30) scale(1,1.04)" text-anchor="middle">2</text>
<text class="tk" transform="translate(1050.70,953.30) scale(1,1.04)" text-anchor="middle">4</text>
<text class="tk" transform="translate(1119.40,953.30) scale(1,1.04)" text-anchor="middle">6</text>
<text class="tk" transform="translate(1188.10,953.30) scale(1,1.04)" text-anchor="middle">8</text>
<text class="tk" transform="translate(884.70,838.55) scale(1,1.04)" text-anchor="end">2</text>
<text class="tk" transform="translate(884.70,921.15) scale(1,1.04)" text-anchor="end">0</text>
<text class="tk" transform="translate(901.10,743.20) scale(1,1.04)">1e10</text>
<text class="lb" transform="translate(1051.05,720.00) scale(1,1.04)" text-anchor="middle">3 node star, all incoming</text>
<text class="lb" transform="translate(1051.05,979.55) scale(1,1.04)" text-anchor="middle">Time(days)</text>
<text class="lb" transform="translate(840.95,838.75) rotate(-90) scale(1,1.04)" text-anchor="middle">Number of</text>
<text class="lb" transform="translate(862.85,833.00) rotate(-90) scale(1,1.04)" text-anchor="middle">motif instances</text></g>
<g><rect x="76.5" y="1049.6" width="298.30" height="172.40" fill="#EAEAF2"/>
<clipPath id="cb4"><rect x="76.5" y="1049.6" width="298.30" height="172.40"/></clipPath>
<path d="M87.60 1049.6V1222.0M156.18 1049.6V1222.0M224.76 1049.6V1222.0M293.34 1049.6V1222.0M361.92 1049.6V1222.0M76.5 1083.2H374.8M76.5 1127.1H374.8M76.5 1170.8H374.8M76.5 1214.2H374.8" stroke="#fff" stroke-width="1.75" fill="none" clip-path="url(#cb4)"/>
<polyline points="88.60,1200.00 89.89,1194.83 91.96,1190.96 93.77,1187.08 95.83,1185.79 97.90,1184.50 99.71,1181.92 102.29,1181.92 104.10,1178.82 106.17,1176.75 108.23,1175.46 110.04,1173.65 111.85,1170.29 113.40,1166.42 115.21,1162.54 117.79,1159.96 119.60,1154.79 121.15,1149.62 122.96,1150.92 124.77,1150.40 126.83,1152.21 128.90,1153.50 130.71,1154.79 132.52,1156.08 134.58,1157.38 136.39,1158.67 138.46,1154.79 140.27,1154.02 142.33,1157.38 144.14,1156.08 146.21,1152.21 148.02,1147.04 149.57,1141.10 151.38,1139.29 153.18,1132.83 155.25,1128.18 156.54,1129.73 157.83,1132.83 159.90,1138.52 161.71,1141.88 163.52,1143.17 165.58,1140.07 167.39,1143.17 169.46,1144.46 170.75,1145.75 172.82,1141.88 174.62,1143.68 175.92,1139.29 177.98,1138.00 179.79,1135.42 181.60,1135.93 183.67,1134.12 185.47,1132.32 187.54,1132.83 189.35,1125.08 190.64,1123.79 191.93,1126.38 194.00,1125.08 195.81,1130.25 197.10,1132.83 199.17,1131.54 201.23,1130.25 203.04,1130.77 204.85,1131.54 206.92,1129.73 208.72,1132.32 210.79,1131.54 212.08,1128.96 213.63,1132.32 215.18,1127.15 216.73,1130.25 218.28,1126.38 219.83,1130.25 221.12,1127.67 222.93,1124.57 224.48,1121.21 226.29,1118.62 227.58,1116.04 228.88,1119.92 230.17,1123.79 231.46,1122.50 232.75,1125.08 234.04,1121.21 235.33,1122.50 236.62,1117.33 237.92,1116.04 239.21,1112.17 240.50,1116.04 241.79,1110.88 243.60,1108.29 245.15,1107.00 246.44,1110.88 248.25,1110.88 250.06,1107.00 252.12,1108.29 253.93,1109.07 255.48,1108.29 257.29,1100.54 259.10,1095.38 260.65,1094.08 261.68,1096.67 263.23,1101.83 265.04,1107.00 266.85,1106.48 268.92,1110.88 270.73,1112.68 272.79,1110.10 274.60,1111.65 276.15,1115.27 277.96,1113.46 279.77,1112.68 281.83,1114.23 283.38,1108.29 284.93,1103.90 286.48,1101.32 288.29,1097.96 289.58,1091.50 291.65,1085.04 293.46,1081.17 294.75,1083.75 296.56,1087.62 298.62,1092.79 299.92,1097.96 301.73,1104.93 303.79,1106.48 305.60,1104.93 307.67,1104.93 309.73,1103.12 311.54,1104.93 312.83,1109.07 314.64,1104.93 316.71,1100.54 318.52,1096.67 320.07,1088.92 321.88,1083.75 323.17,1076.00 324.98,1069.54 326.52,1064.38 328.33,1057.40 330.14,1057.92 331.43,1065.67 332.98,1073.42 334.79,1072.90 336.08,1074.71 337.38,1083.75 338.67,1091.50 340.47,1086.33 341.77,1087.62 343.32,1092.79 344.61,1097.96 345.90,1092.79 347.71,1088.40 349.00,1085.82 350.29,1078.58 351.58,1073.93 353.65,1074.71 355.46,1066.96 356.75,1059.21 358.04,1058.43 359.33,1060.50 360.62,1063.60 361.92,1059.21" fill="none" stroke="#0000ff" stroke-width="2.6" stroke-linejoin="round" stroke-linecap="round" clip-path="url(#cb4)"/>
<polyline points="88.60,1214.72 147.50,1212.40 225.00,1211.11 294.75,1209.82 328.33,1209.82 361.92,1209.56" fill="none" stroke="#ff0000" stroke-width="2.6" stroke-linejoin="round" stroke-linecap="round" clip-path="url(#cb4)"/>
<text class="tk" transform="translate(87.60,1253.50) scale(1,1.04)" text-anchor="middle">0</text>
<text class="tk" transform="translate(156.18,1253.50) scale(1,1.04)" text-anchor="middle">2</text>
<text class="tk" transform="translate(224.76,1253.50) scale(1,1.04)" text-anchor="middle">4</text>
<text class="tk" transform="translate(293.34,1253.50) scale(1,1.04)" text-anchor="middle">6</text>
<text class="tk" transform="translate(361.92,1253.50) scale(1,1.04)" text-anchor="middle">8</text>
<text class="tk" transform="translate(59.10,1090.35) scale(1,1.04)" text-anchor="end">6</text>
<text class="tk" transform="translate(59.10,1134.25) scale(1,1.04)" text-anchor="end">4</text>
<text class="tk" transform="translate(59.10,1177.95) scale(1,1.04)" text-anchor="end">2</text>
<text class="tk" transform="translate(59.10,1221.35) scale(1,1.04)" text-anchor="end">0</text>
<text class="tk" transform="translate(75.50,1043.50) scale(1,1.04)">1e10</text>
<text class="lb" transform="translate(225.65,1020.00) scale(1,1.04)" text-anchor="middle">3 node star, all outgoing</text>
<text class="lb" transform="translate(225.65,1279.75) scale(1,1.04)" text-anchor="middle">Time(days)</text>
<text class="lb" transform="translate(15.75,1138.85) rotate(-90) scale(1,1.04)" text-anchor="middle">Number of</text>
<text class="lb" transform="translate(37.65,1133.10) rotate(-90) scale(1,1.04)" text-anchor="middle">motif instances</text></g>
<g><rect x="489.1" y="1049.6" width="298.30" height="172.40" fill="#EAEAF2"/>
<clipPath id="cb5"><rect x="489.1" y="1049.6" width="298.30" height="172.40"/></clipPath>
<path d="M500.50 1049.6V1222.0M569.00 1049.6V1222.0M637.50 1049.6V1222.0M706.00 1049.6V1222.0M774.50 1049.6V1222.0M489.1 1083.7H787.4M489.1 1149.6H787.4M489.1 1215.0H787.4" stroke="#fff" stroke-width="1.75" fill="none" clip-path="url(#cb5)"/>
<polyline points="501.18,1206.46 502.73,1200.00 504.54,1193.54 506.35,1188.38 507.90,1185.79 509.71,1185.02 511.52,1183.21 514.10,1182.43 516.17,1180.62 518.75,1179.33 520.82,1177.27 522.62,1175.46 524.43,1173.65 525.98,1170.29 527.79,1166.42 529.60,1165.12 531.67,1164.35 532.96,1159.96 534.77,1157.38 536.83,1157.38 539.42,1157.38 541.48,1158.67 543.29,1160.73 545.88,1162.54 547.68,1163.83 549.75,1163.32 551.82,1163.83 553.62,1163.32 555.43,1163.83 557.50,1161.25 559.31,1157.38 561.38,1152.21 563.18,1148.33 564.73,1147.04 566.54,1141.10 568.35,1136.71 570.42,1137.48 572.23,1141.88 573.77,1145.75 575.58,1147.56 577.39,1148.33 578.94,1144.46 580.23,1148.33 581.52,1149.62 583.33,1150.92 585.14,1148.33 586.69,1149.62 587.98,1144.46 589.79,1144.46 591.60,1140.58 593.67,1140.07 595.48,1138.00 597.54,1136.71 599.35,1135.42 600.90,1135.93 602.71,1128.96 604.52,1128.96 606.07,1130.25 607.36,1134.12 609.17,1136.71 610.98,1138.00 613.04,1135.42 614.85,1136.71 616.92,1135.93 618.98,1134.12 620.79,1135.42 622.60,1137.48 624.15,1134.12 625.96,1136.71 627.77,1130.25 629.32,1132.83 630.61,1128.96 632.42,1131.54 634.23,1127.67 635.77,1123.79 637.58,1118.62 638.88,1117.33 640.17,1116.82 641.46,1119.92 642.75,1121.21 644.04,1118.62 645.33,1122.50 646.62,1118.62 647.92,1120.43 649.21,1117.85 650.50,1114.75 651.79,1110.88 653.08,1105.71 654.38,1112.68 655.67,1108.29 657.48,1108.29 659.02,1106.48 660.83,1108.29 662.64,1104.93 664.19,1104.42 666.00,1106.48 667.81,1108.29 669.36,1103.90 671.17,1097.96 672.98,1093.57 674.27,1097.18 675.82,1101.83 677.11,1107.00 678.92,1106.48 680.73,1110.88 682.79,1114.23 684.60,1111.65 686.67,1113.46 688.73,1116.82 690.54,1115.27 691.83,1117.33 693.64,1117.85 695.19,1114.75 697.00,1106.48 698.81,1102.35 700.88,1099.25 702.68,1088.40 704.23,1084.27 705.52,1079.88 707.33,1085.04 709.14,1090.98 710.69,1096.67 712.50,1099.25 713.79,1097.96 715.08,1105.71 716.89,1109.58 718.18,1110.88 719.73,1109.07 721.54,1104.93 723.35,1104.93 724.90,1107.00 726.19,1112.68 728.00,1107.00 729.81,1101.32 731.36,1096.67 733.17,1090.98 734.98,1085.82 736.52,1077.29 738.33,1070.83 740.14,1063.08 741.69,1056.62 742.98,1060.50 744.27,1068.25 746.08,1076.00 747.89,1077.29 749.44,1083.75 751.25,1094.08 752.54,1099.25 753.83,1095.38 755.12,1094.08 756.42,1100.54 757.71,1105.71 759.00,1101.83 760.81,1096.67 762.10,1095.38 763.39,1086.33 764.94,1081.17 766.23,1082.46 767.52,1073.42 768.82,1065.67 770.62,1063.08 771.92,1065.67 773.21,1069.54 774.50,1065.15" fill="none" stroke="#0000ff" stroke-width="2.6" stroke-linejoin="round" stroke-linecap="round" clip-path="url(#cb5)"/>
<polyline points="501.18,1214.72 531.67,1211.62 570.42,1209.82 609.17,1208.53 647.92,1207.23 681.50,1206.46 704.75,1205.68 725.42,1206.46 738.33,1205.68 759.00,1206.72 774.50,1205.68" fill="none" stroke="#ff0000" stroke-width="2.6" stroke-linejoin="round" stroke-linecap="round" clip-path="url(#cb5)"/>
<text class="tk" transform="translate(500.50,1253.50) scale(1,1.04)" text-anchor="middle">0</text>
<text class="tk" transform="translate(569.00,1253.50) scale(1,1.04)" text-anchor="middle">2</text>
<text class="tk" transform="translate(637.50,1253.50) scale(1,1.04)" text-anchor="middle">4</text>
<text class="tk" transform="translate(706.00,1253.50) scale(1,1.04)" text-anchor="middle">6</text>
<text class="tk" transform="translate(774.50,1253.50) scale(1,1.04)" text-anchor="middle">8</text>
<text class="tk" transform="translate(471.70,1090.85) scale(1,1.04)" text-anchor="end">1.0</text>
<text class="tk" transform="translate(471.70,1156.75) scale(1,1.04)" text-anchor="end">0.5</text>
<text class="tk" transform="translate(471.70,1222.15) scale(1,1.04)" text-anchor="end">0.0</text>
<text class="tk" transform="translate(488.50,1043.50) scale(1,1.04)">1e11</text>
<text class="lb" transform="translate(638.25,1020.00) scale(1,1.04)" text-anchor="middle">3 node star, mixed directions</text>
<text class="lb" transform="translate(638.25,1279.75) scale(1,1.04)" text-anchor="middle">Time(days)</text>
<text class="lb" transform="translate(412.85,1138.85) rotate(-90) scale(1,1.04)" text-anchor="middle">Number of</text>
<text class="lb" transform="translate(434.55,1133.10) rotate(-90) scale(1,1.04)" text-anchor="middle">motif instances</text></g>
<g><rect x="902.1" y="1049.6" width="297.90" height="172.20" fill="#EAEAF2"/>
<clipPath id="cb6"><rect x="902.1" y="1049.6" width="297.90" height="172.20"/></clipPath>
<path d="M913.30 1049.6V1221.8M982.00 1049.6V1221.8M1050.70 1049.6V1221.8M1119.40 1049.6V1221.8M1188.10 1049.6V1221.8M902.1 1082.6H1200M902.1 1126.9H1200M902.1 1170.8H1200M902.1 1214.8H1200" stroke="#fff" stroke-width="1.75" fill="none" clip-path="url(#cb6)"/>
<path d="M914.06,1214.78C915.12,1213.60 918.09,1210.12 920.42,1207.67C922.75,1205.21 925.50,1202.58 928.04,1200.04C930.58,1197.50 933.12,1194.75 935.67,1192.42C938.21,1190.09 940.96,1188.39 943.29,1186.06C945.62,1183.73 947.32,1180.56 949.65,1178.44C951.98,1176.32 954.73,1175.18 957.27,1173.35C959.81,1171.53 962.35,1169.41 964.90,1167.51C967.44,1165.60 970.19,1164.12 972.52,1161.92C974.85,1159.71 976.97,1156.49 978.88,1154.29C980.78,1152.09 982.26,1149.97 983.96,1148.70C985.65,1147.43 986.92,1147.43 989.04,1146.67C991.16,1145.90 994.34,1145.18 996.67,1144.12C999.00,1143.07 1000.90,1141.80 1003.02,1140.31C1005.14,1138.83 1007.26,1137.14 1009.38,1135.23C1011.49,1133.32 1013.82,1130.57 1015.73,1128.88C1017.64,1127.18 1018.69,1125.91 1020.81,1125.06C1022.93,1124.22 1026.11,1124.51 1028.44,1123.79C1030.77,1123.07 1032.67,1121.80 1034.79,1120.74C1036.91,1119.68 1039.03,1119.05 1041.15,1117.44C1043.26,1115.83 1045.59,1113.07 1047.50,1111.08C1049.41,1109.09 1050.68,1106.68 1052.58,1105.49C1054.49,1104.31 1057.03,1104.09 1058.94,1103.97C1060.84,1103.84 1062.11,1105.24 1064.02,1104.73C1065.93,1104.22 1068.26,1102.40 1070.38,1100.92C1072.49,1099.43 1074.61,1097.53 1076.73,1095.83C1078.85,1094.14 1081.18,1092.36 1083.08,1090.75C1084.99,1089.14 1086.47,1086.68 1088.17,1086.17C1089.86,1085.67 1091.56,1087.02 1093.25,1087.70C1094.94,1088.38 1096.64,1090.16 1098.33,1090.24C1100.03,1090.33 1101.72,1089.18 1103.42,1088.21C1105.11,1087.23 1106.81,1085.75 1108.50,1084.40C1110.19,1083.04 1111.89,1081.35 1113.58,1080.08C1115.28,1078.80 1116.97,1077.11 1118.67,1076.77C1120.36,1076.43 1122.06,1077.19 1123.75,1078.04C1125.44,1078.89 1126.93,1080.80 1128.83,1081.85C1130.74,1082.91 1133.07,1084.27 1135.19,1084.40C1137.31,1084.52 1139.64,1083.59 1141.54,1082.62C1143.45,1081.64 1144.93,1079.52 1146.62,1078.55C1148.32,1077.58 1150.01,1076.43 1151.71,1076.77C1153.40,1077.11 1154.89,1078.89 1156.79,1080.58C1158.70,1082.28 1161.03,1085.45 1163.15,1086.94C1165.26,1088.42 1167.59,1089.35 1169.50,1089.48C1171.41,1089.61 1172.89,1088.76 1174.58,1087.70C1176.28,1086.64 1177.97,1084.52 1179.67,1083.12C1181.36,1081.73 1183.27,1080.24 1184.75,1079.31C1186.23,1078.38 1187.93,1077.83 1188.56,1077.53" fill="none" stroke="#ff0000" stroke-opacity="0.13" stroke-width="5.2" stroke-linejoin="round" clip-path="url(#cb6)"/>
<polyline points="914.06,1202.08 915.33,1197.50 917.37,1193.69 919.15,1194.96 920.42,1197.50 922.45,1193.69 924.23,1194.96 926.01,1198.77 927.53,1194.96 929.31,1191.15 931.09,1192.42 933.12,1189.88 934.90,1187.33 936.43,1191.15 938.21,1188.60 939.99,1186.06 941.51,1187.33 942.78,1183.52 944.05,1172.08 945.07,1163.95 946.34,1165.73 947.61,1169.54 948.38,1164.46 949.65,1167.00 951.42,1165.73 952.95,1169.54 954.22,1174.62 956.00,1175.90 957.27,1174.62 958.54,1184.79 960.58,1183.52 962.35,1180.98 964.13,1175.13 965.66,1178.44 966.93,1183.52 968.71,1174.62 969.98,1179.71 971.25,1184.79 972.52,1180.98 973.79,1184.28 975.57,1186.83 976.84,1174.62 978.37,1174.62 980.15,1156.83 981.42,1151.75 982.69,1154.29 984.47,1154.80 985.99,1159.38 987.26,1164.46 989.04,1169.54 990.31,1174.62 991.58,1170.81 992.85,1167.00 994.63,1168.27 996.16,1169.54 997.94,1172.59 999.21,1175.90 1000.48,1170.81 1001.75,1163.95 1003.02,1167.00 1004.29,1165.73 1005.56,1170.81 1006.83,1164.46 1008.61,1169.54 1010.14,1149.21 1011.41,1153.02 1013.19,1159.38 1014.46,1156.83 1016.24,1156.33 1018.27,1154.29 1020.05,1154.80 1021.32,1158.87 1022.59,1146.67 1024.12,1137.77 1025.39,1149.21 1026.66,1151.75 1027.67,1161.92 1028.95,1167.00 1030.22,1167.00 1032.25,1168.27 1033.52,1167.00 1034.79,1169.54 1036.06,1172.08 1037.33,1149.21 1038.60,1169.54 1039.88,1170.81 1041.15,1164.46 1042.42,1156.83 1044.45,1154.80 1045.72,1154.29 1046.99,1142.85 1048.26,1128.88 1050.04,1118.71 1051.31,1112.35 1052.58,1107.27 1053.85,1114.90 1055.12,1127.60 1056.40,1135.23 1057.67,1116.17 1058.94,1118.71 1060.21,1128.88 1061.48,1144.12 1062.75,1146.67 1064.02,1141.58 1065.29,1146.67 1066.56,1153.02 1067.83,1153.02 1069.10,1154.29 1070.38,1158.10 1071.65,1161.92 1072.92,1156.83 1074.19,1154.29 1075.97,1145.40 1077.24,1135.23 1078.51,1133.96 1080.03,1140.31 1081.30,1131.42 1082.58,1119.98 1084.35,1121.25 1086.13,1118.71 1087.40,1128.88 1088.67,1126.33 1089.95,1140.31 1091.22,1140.31 1092.49,1127.60 1093.76,1135.23 1095.03,1141.58 1096.30,1137.77 1097.57,1145.40 1098.84,1151.75 1100.11,1146.67 1101.38,1141.58 1102.65,1137.77 1103.92,1130.15 1105.45,1100.92 1106.47,1116.17 1107.74,1132.69 1109.01,1135.23 1110.28,1140.31 1111.55,1131.42 1112.82,1128.88 1114.09,1122.52 1115.36,1127.60 1116.63,1121.25 1117.90,1103.46 1119.17,1098.38 1120.45,1094.56 1121.72,1095.83 1123.24,1056.44 1124.51,1075.50 1125.78,1098.38 1127.05,1116.17 1128.33,1126.33 1129.60,1121.25 1130.87,1122.52 1131.88,1117.44 1133.15,1123.79 1134.42,1128.88 1135.70,1136.50 1136.97,1122.52 1138.24,1121.25 1139.51,1128.88 1140.78,1121.25 1142.05,1137.77 1143.32,1119.98 1144.59,1122.52 1145.86,1123.79 1147.13,1117.44 1148.40,1113.62 1149.67,1123.79 1150.95,1113.62 1152.22,1107.27 1153.49,1097.10 1154.76,1098.38 1156.03,1103.46 1157.30,1083.12 1158.57,1095.83 1159.84,1114.90 1160.60,1102.19 1161.88,1089.48 1162.64,1131.42 1163.65,1111.08 1164.42,1118.71 1165.18,1131.42 1166.20,1116.17 1167.21,1131.42 1168.23,1106.00 1169.50,1128.88 1170.77,1118.71 1171.53,1108.54 1172.55,1140.31 1173.82,1141.58 1175.09,1139.04 1176.36,1128.88 1177.12,1118.71 1178.40,1113.62 1179.67,1103.46 1180.94,1088.21 1181.70,1085.67 1182.72,1100.92 1183.99,1116.17 1184.75,1103.46 1186.02,1112.35 1186.78,1106.00 1188.56,1106.00" fill="none" stroke="#0000ff" stroke-width="2.6" stroke-linejoin="round" stroke-linecap="round" clip-path="url(#cb6)"/>
<path d="M914.06,1214.78C915.12,1213.60 918.09,1210.12 920.42,1207.67C922.75,1205.21 925.50,1202.58 928.04,1200.04C930.58,1197.50 933.12,1194.75 935.67,1192.42C938.21,1190.09 940.96,1188.39 943.29,1186.06C945.62,1183.73 947.32,1180.56 949.65,1178.44C951.98,1176.32 954.73,1175.18 957.27,1173.35C959.81,1171.53 962.35,1169.41 964.90,1167.51C967.44,1165.60 970.19,1164.12 972.52,1161.92C974.85,1159.71 976.97,1156.49 978.88,1154.29C980.78,1152.09 982.26,1149.97 983.96,1148.70C985.65,1147.43 986.92,1147.43 989.04,1146.67C991.16,1145.90 994.34,1145.18 996.67,1144.12C999.00,1143.07 1000.90,1141.80 1003.02,1140.31C1005.14,1138.83 1007.26,1137.14 1009.38,1135.23C1011.49,1133.32 1013.82,1130.57 1015.73,1128.88C1017.64,1127.18 1018.69,1125.91 1020.81,1125.06C1022.93,1124.22 1026.11,1124.51 1028.44,1123.79C1030.77,1123.07 1032.67,1121.80 1034.79,1120.74C1036.91,1119.68 1039.03,1119.05 1041.15,1117.44C1043.26,1115.83 1045.59,1113.07 1047.50,1111.08C1049.41,1109.09 1050.68,1106.68 1052.58,1105.49C1054.49,1104.31 1057.03,1104.09 1058.94,1103.97C1060.84,1103.84 1062.11,1105.24 1064.02,1104.73C1065.93,1104.22 1068.26,1102.40 1070.38,1100.92C1072.49,1099.43 1074.61,1097.53 1076.73,1095.83C1078.85,1094.14 1081.18,1092.36 1083.08,1090.75C1084.99,1089.14 1086.47,1086.68 1088.17,1086.17C1089.86,1085.67 1091.56,1087.02 1093.25,1087.70C1094.94,1088.38 1096.64,1090.16 1098.33,1090.24C1100.03,1090.33 1101.72,1089.18 1103.42,1088.21C1105.11,1087.23 1106.81,1085.75 1108.50,1084.40C1110.19,1083.04 1111.89,1081.35 1113.58,1080.08C1115.28,1078.80 1116.97,1077.11 1118.67,1076.77C1120.36,1076.43 1122.06,1077.19 1123.75,1078.04C1125.44,1078.89 1126.93,1080.80 1128.83,1081.85C1130.74,1082.91 1133.07,1084.27 1135.19,1084.40C1137.31,1084.52 1139.64,1083.59 1141.54,1082.62C1143.45,1081.64 1144.93,1079.52 1146.62,1078.55C1148.32,1077.58 1150.01,1076.43 1151.71,1076.77C1153.40,1077.11 1154.89,1078.89 1156.79,1080.58C1158.70,1082.28 1161.03,1085.45 1163.15,1086.94C1165.26,1088.42 1167.59,1089.35 1169.50,1089.48C1171.41,1089.61 1172.89,1088.76 1174.58,1087.70C1176.28,1086.64 1177.97,1084.52 1179.67,1083.12C1181.36,1081.73 1183.27,1080.24 1184.75,1079.31C1186.23,1078.38 1187.93,1077.83 1188.56,1077.53" fill="none" stroke="#ff0000" stroke-width="2.6" stroke-linejoin="round" stroke-linecap="round" clip-path="url(#cb6)"/>
<text class="tk" transform="translate(913.30,1253.30) scale(1,1.04)" text-anchor="middle">0</text>
<text class="tk" transform="translate(982.00,1253.30) scale(1,1.04)" text-anchor="middle">2</text>
<text class="tk" transform="translate(1050.70,1253.30) scale(1,1.04)" text-anchor="middle">4</text>
<text class="tk" transform="translate(1119.40,1253.30) scale(1,1.04)" text-anchor="middle">6</text>
<text class="tk" transform="translate(1188.10,1253.30) scale(1,1.04)" text-anchor="middle">8</text>
<text class="tk" transform="translate(884.70,1089.75) scale(1,1.04)" text-anchor="end">7.5</text>
<text class="tk" transform="translate(884.70,1134.05) scale(1,1.04)" text-anchor="end">5.0</text>
<text class="tk" transform="translate(884.70,1177.95) scale(1,1.04)" text-anchor="end">2.5</text>
<text class="tk" transform="translate(884.70,1221.95) scale(1,1.04)" text-anchor="end">0.0</text>
<text class="tk" transform="translate(901.10,1043.50) scale(1,1.04)">1e7</text>
<text class="lb" transform="translate(1051.05,1038.00) scale(1,1.04)" text-anchor="middle">Triangles</text>
<text class="lb" transform="translate(1051.05,1279.55) scale(1,1.04)" text-anchor="middle">Time(days)</text>
<text class="lb" transform="translate(824.95,1138.75) rotate(-90) scale(1,1.04)" text-anchor="middle">Number of</text>
<text class="lb" transform="translate(847.05,1133.00) rotate(-90) scale(1,1.04)" text-anchor="middle">motif instances</text>
<rect x="910.8" y="1058.2" width="138.00" height="59.00" rx="3.5" fill="#EAEAF2" fill-opacity="0.8" stroke="#cccccc" stroke-width="1.3"/>
<path d="M918.6 1072.5H956.2" stroke="#0000ff" stroke-width="2.6" stroke-linecap="round"/>
<path d="M918.6 1099.7H956.2" stroke="#ff0000" stroke-width="2.6" stroke-linecap="round"/>
<text class="tk" transform="translate(970.9,1079.8) scale(1,1.04)">Real</text>
<text class="tk" transform="translate(970.9,1106.8) scale(1,1.04)">Shuffled</text></g>
<text x="470.75" y="670" style="font-weight:bold;font-size:25px;fill:#000">(a)</text><text class="serif" x="509.25" y="670" style="font-size:24.8px;fill:#000">Alphabay transactions</text><text x="504.75" y="1375" style="font-weight:bold;font-size:25px;fill:#000">(b)</text><text class="serif" x="543.75" y="1375" style="font-size:25px;fill:#000">NFT purchases</text></svg>
</body></html>
